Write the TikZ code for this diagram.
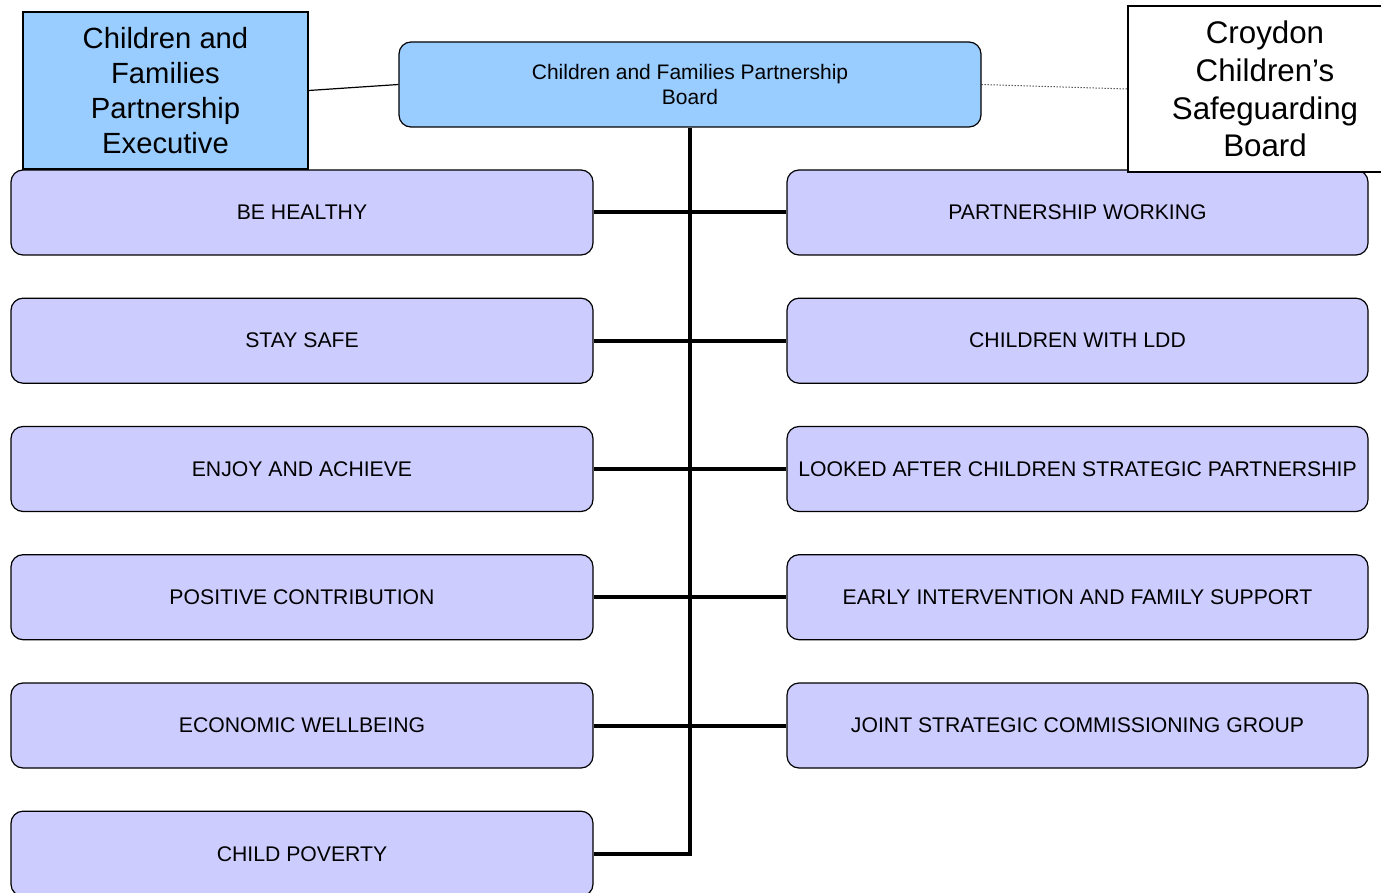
\documentclass[tikz,border=0pt]{standalone}
\usepackage{fontspec}
\setmainfont{Liberation Sans}
\definecolor{topblue}{HTML}{99CCFF}
\definecolor{rowlav}{HTML}{CCCCFF}
\begin{document}
\begin{tikzpicture}[x=1pt,y=-1pt,
  rowbox/.style={draw=black, line width=1.2pt, fill=rowlav, rounded corners=12pt,
    minimum width=582pt, minimum height=85pt, inner sep=0pt, align=center,
    font=\fontsize{21.2}{24}\selectfont},
  boardbox/.style={draw=black, line width=1.2pt, fill=topblue, rounded corners=12pt,
    minimum width=582pt, minimum height=85pt, inner sep=0pt, align=center,
    font=\fontsize{21}{24.5}\selectfont},
  execbox/.style={draw=black, line width=1.2pt, fill=topblue,
    minimum width=285pt, minimum height=157pt, inner sep=0pt, align=center,
    font=\fontsize{29.2}{35}\selectfont},
  croybox/.style={draw=black, line width=1.2pt, fill=white,
    minimum width=274pt, minimum height=166pt, inner sep=0pt, align=center,
    font=\fontsize{31.3}{37.7}\selectfont},
  conn/.style={line width=4pt},
  thinconn/.style={line width=1.2pt},
  dotconn/.style={line width=1pt, dotted}]
\useasboundingbox (0,0) rectangle (1381,893);
\clip (0,0) rectangle (1381,893);
% rows
\node[rowbox] (l1) at (302,212.5) {BE HEALTHY};
\node[rowbox] (l2) at (302,340.7) {STAY SAFE};
\node[rowbox] (l3) at (302,469) {ENJOY AND ACHIEVE};
\node[rowbox] (l4) at (302,597.2) {POSITIVE CONTRIBUTION};
\node[rowbox] (l5) at (302,725.5) {ECONOMIC WELLBEING};
\node[rowbox] (l6) at (302,853.7) {CHILD POVERTY};
\node[rowbox, minimum width=581pt] (r1) at (1077.5,212.5) {PARTNERSHIP WORKING};
\node[rowbox, minimum width=581pt] (r2) at (1077.5,340.7) {CHILDREN WITH LDD};
\node[rowbox, minimum width=581pt] (r3) at (1077.5,469) {LOOKED AFTER CHILDREN STRATEGIC PARTNERSHIP};
\node[rowbox, minimum width=581pt] (r4) at (1077.5,597.2) {EARLY INTERVENTION AND FAMILY SUPPORT};
\node[rowbox, minimum width=581pt] (r5) at (1077.5,725.5) {JOINT STRATEGIC COMMISSIONING GROUP};
% top
\node[boardbox] (board) at (690,84.5) {Children and Families Partnership\\Board};
\node[execbox] (exec) at (165.5,90.5) {Children and\\Families\\Partnership\\Executive};
\node[croybox] (croy) at (1265,89) {Croydon\\Children’s\\Safeguarding\\Board};
% connectors
\draw[conn] (board.south) -- (board.south |- l6.east) -- (l6.east);
\draw[conn] (l1.east) -- (r1.west);
\draw[conn] (l2.east) -- (r2.west);
\draw[conn] (l3.east) -- (r3.west);
\draw[conn] (l4.east) -- (r4.west);
\draw[conn] (l5.east) -- (r5.west);
\draw[thinconn] (exec.east) -- (board.west);
\draw[dotconn] (board.east) -- (croy.west);
\end{tikzpicture}
\end{document}
